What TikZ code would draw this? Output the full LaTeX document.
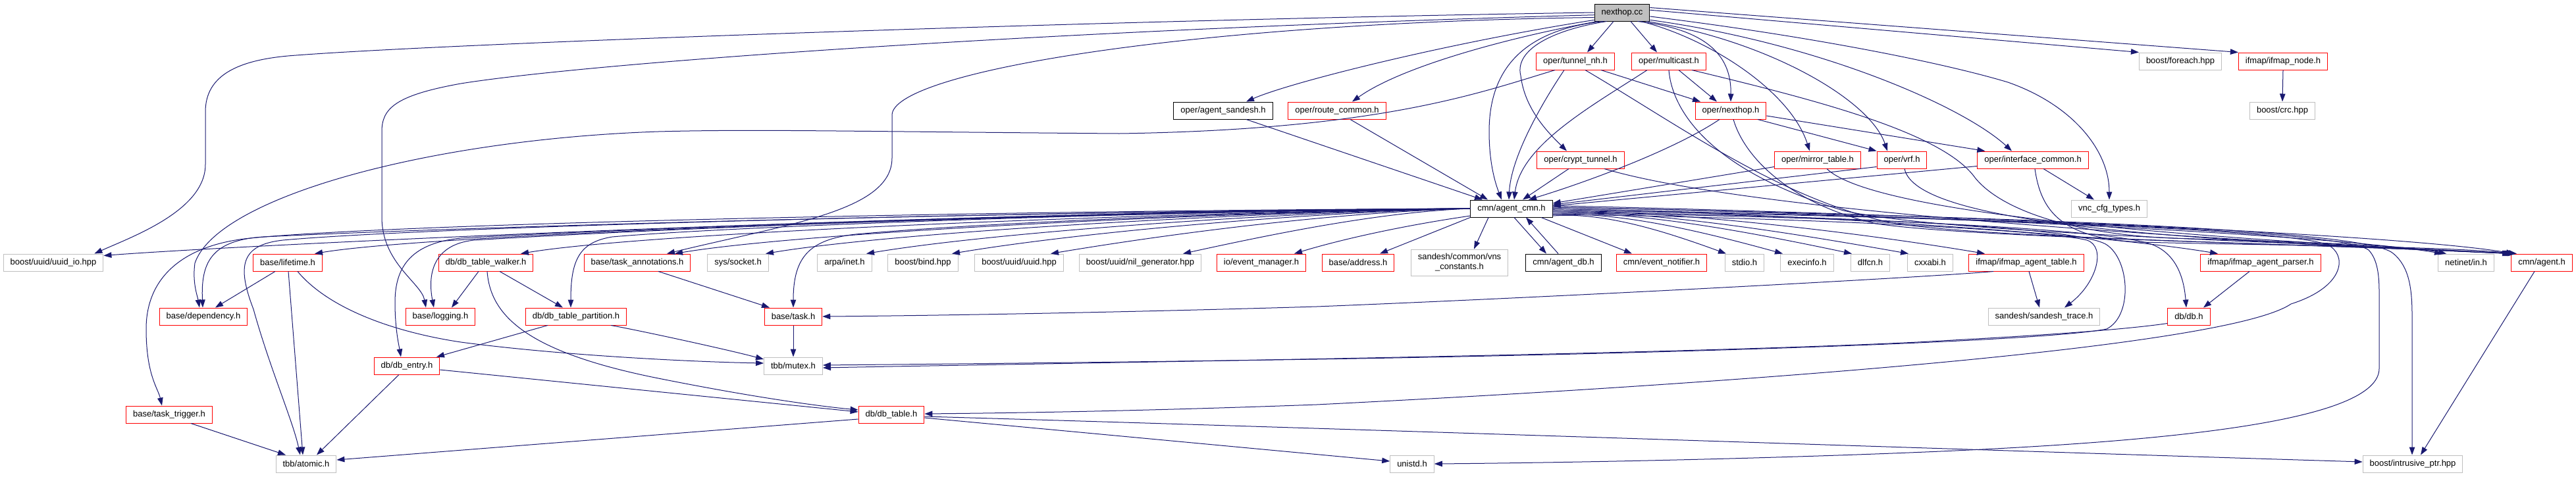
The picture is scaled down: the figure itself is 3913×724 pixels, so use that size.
\documentclass[tikz,border=0pt]{standalone}
\usepackage{fontspec}
\setmainfont{Liberation Sans}
\usepackage{tikz}
\usetikzlibrary{arrows.meta}
\definecolor{edgeblue}{RGB}{25,25,112}
\definecolor{truncred}{RGB}{255,0,0}
\definecolor{sysgray}{RGB}{191,191,191}
\newcommand{\incfont}{\fontsize{13}{15}\selectfont}

\tikzset{
  incbox/.style={rectangle, fill=white, minimum height=26pt, inner xsep=10.5pt,
                 inner ysep=0pt, line width=1pt, font=\incfont, align=center},
  sysfile/.style={incbox, draw=sysgray},
  truncfile/.style={incbox, draw=truncred},
  docfile/.style={incbox, draw=black},
  rootfile/.style={incbox, draw=black, fill=sysgray},
  dep/.style={draw=edgeblue, line width=1pt, -{Triangle[length=12pt,width=8.5pt]}}
}

\begin{document}
\begin{tikzpicture}[x=1pt, y=-1pt]
  \useasboundingbox (0,0) rectangle (3913,724);

  % Files included by nexthop.cc
  \node[rootfile]  (nexthopcc)    at (2464,19)  {nexthop.cc};
  \node[truncfile] (tunnelnh)     at (2393,93)  {oper/tunnel\_nh.h};
  \node[truncfile] (multicast)    at (2535,93)  {oper/multicast.h};
  \node[sysfile]   (foreach)      at (3312,93)  {boost/foreach.hpp};
  \node[truncfile] (ifmapnode)    at (3468,93)  {ifmap/ifmap\_node.h};
  \node[docfile]   (agentsandesh) at (1858,168) {oper/agent\_sandesh.h};
  \node[truncfile] (routecommon)  at (2031,168) {oper/route\_common.h};
  \node[truncfile] (nexthoph)     at (2629,168) {oper/nexthop.h};
  \node[sysfile]   (crc)          at (3467,168) {boost/crc.hpp};
  \node[truncfile] (crypttunnel)  at (2401,243) {oper/crypt\_tunnel.h};
  \node[truncfile] (mirrortable)  at (2761,243) {oper/mirror\_table.h};
  \node[truncfile] (vrf)          at (2889,243) {oper/vrf.h};
  \node[truncfile] (ifcommon)     at (3088,243) {oper/interface\_common.h};
  \node[docfile]   (agentcmn)     at (2296,317) {cmn/agent\_cmn.h};
  \node[sysfile]   (vnccfg)       at (3204,317) {vnc\_cfg\_types.h};

  % Files included by cmn/agent_cmn.h
  \node[sysfile]   (uuidio)           at (81,399)   {boost/uuid/uuid\_io.hpp};
  \node[truncfile] (lifetime)         at (437,399)  {base/lifetime.h};
  \node[truncfile] (dbtablewalker)    at (738,399)  {db/db\_table\_walker.h};
  \node[truncfile] (taskannot)        at (968,399)  {base/task\_annotations.h};
  \node[sysfile]   (syssocket)        at (1121,399) {sys/socket.h};
  \node[sysfile]   (arpainet)         at (1283,399) {arpa/inet.h};
  \node[sysfile]   (boostbind)        at (1402,399) {boost/bind.hpp};
  \node[sysfile]   (uuidh)            at (1548,399) {boost/uuid/uuid.hpp};
  \node[sysfile]   (nilgen)           at (1732,399) {boost/uuid/nil\_generator.hpp};
  \node[truncfile] (eventmgr)         at (1916,399) {io/event\_manager.h};
  \node[truncfile] (address)          at (2063,399) {base/address.h};
  \node[sysfile, minimum height=40pt] (vnsconst) at (2217,399) {sandesh/common/vns\\\_constants.h};
  \node[docfile]   (agentdb)          at (2375,399) {cmn/agent\_db.h};
  \node[truncfile] (eventnotifier)    at (2524,399) {cmn/event\_notifier.h};
  \node[sysfile]   (stdioh)           at (2650,399) {stdio.h};
  \node[sysfile]   (execinfo)         at (2745,399) {execinfo.h};
  \node[sysfile]   (dlfcn)            at (2841,399) {dlfcn.h};
  \node[sysfile]   (cxxabi)           at (2932,399) {cxxabi.h};
  \node[truncfile] (ifmapagenttable)  at (3078,399) {ifmap/ifmap\_agent\_table.h};
  \node[truncfile] (ifmapagentparser) at (3434,399) {ifmap/ifmap\_agent\_parser.h};
  \node[sysfile]   (netinet)          at (3746,399) {netinet/in.h};
  \node[truncfile] (agenth)           at (3861,399) {cmn/agent.h};

  \node[truncfile] (dependency)       at (309,481)  {base/dependency.h};
  \node[truncfile] (logging)          at (669,481)  {base/logging.h};
  \node[truncfile] (dbtablepartition) at (875,481)  {db/db\_table\_partition.h};
  \node[truncfile] (taskh)            at (1205,481) {base/task.h};
  \node[sysfile]   (sandeshtrace)     at (3105,481) {sandesh/sandesh\_trace.h};
  \node[truncfile] (dbh)              at (3325,481) {db/db.h};
  \node[truncfile] (dbentry)          at (618,556)  {db/db\_entry.h};
  \node[sysfile]   (mutex)            at (1205,556) {tbb/mutex.h};
  \node[truncfile] (tasktrigger)      at (257,630)  {base/task\_trigger.h};
  \node[truncfile] (dbtable)          at (1354,630) {db/db\_table.h};
  \node[sysfile]   (atomic)           at (465,705)  {tbb/atomic.h};
  \node[sysfile]   (unistd)           at (2145,705) {unistd.h};
  \node[sysfile]   (intrusive)        at (3665,705) {boost/intrusive\_ptr.hpp};

  % nexthop.cc includes
  \draw[dep] (nexthopcc.180) .. controls (1700,30) and (700,65) .. (450,84)
             .. controls (360,90) and (312,115) .. (312,170) -- (312,250)
             .. controls (312,320) and (200,360) .. ([xshift=-14pt]uuidio.north east);
  \draw[dep] (nexthopcc.185) .. controls (1600,45) and (900,95) .. (700,127)
             .. controls (600,145) and (580,165) .. (580,200) -- (580,330)
             .. controls (580,400) and (640,430) .. ([xshift=-22pt]logging.north);
  \draw[dep] (nexthopcc.190) .. controls (1800,35) and (1355,110) .. (1355,175) -- (1355,240)
             .. controls (1355,320) and (1200,340) .. ([xshift=45pt]taskannot.north);
  \draw[dep] (nexthopcc.195) .. controls (2200,65) and (1960,125) .. ([xshift=35pt]agentsandesh.north);
  \draw[dep] (nexthopcc.200) .. controls (2300,55) and (2130,100) .. ([xshift=23pt]routecommon.north);
  \draw[dep] ([xshift=-13pt]nexthopcc.south) -- ([xshift=18pt]tunnelnh.north);
  \draw[dep] ([xshift=13pt]nexthopcc.south) -- ([xshift=-18pt]multicast.north);
  \draw[dep] (nexthopcc.205) .. controls (2320,45) and (2262,100) .. (2262,200)
             .. controls (2262,250) and (2272,280) .. ([xshift=-15pt]agentcmn.north);
  \draw[dep] (nexthopcc.210) .. controls (2360,45) and (2300,75) .. (2310,115)
             .. controls (2316,165) and (2350,200) .. ([xshift=-21pt]crypttunnel.north);
  \draw[dep] (nexthopcc.-30) .. controls (2600,45) and (2630,90) .. (nexthoph.north);
  \draw[dep] (nexthopcc.-25) .. controls (2600,60) and (2720,140) .. ([xshift=-12pt]mirrortable.north);
  \draw[dep] (nexthopcc.-20) .. controls (2680,60) and (2840,150) .. ([xshift=-22pt]vrf.north);
  \draw[dep] (nexthopcc.-15) .. controls (2760,65) and (2980,160) .. ([xshift=-32pt]ifcommon.north);
  \draw[dep] (nexthopcc.-8) .. controls (2750,55) and (2950,95) .. (3050,125)
             .. controls (3150,160) and (3204,230) .. (vnccfg.north);
  \draw[dep] (nexthopcc.5) -- (foreach.north west);
  \draw[dep] (nexthopcc.10) -- (ifmapnode.north west);

  % oper headers
  \draw[dep] ([xshift=35pt]agentsandesh.south) -- ([xshift=-44pt]agentcmn.north);
  \draw[dep] ([xshift=20pt]routecommon.south) -- ([xshift=-36pt]agentcmn.north);
  \draw[dep] ([xshift=-17pt]tunnelnh.south) .. controls (2340,160) and (2295,240) .. ([xshift=-4pt]agentcmn.north);
  \draw[dep] ([xshift=-33pt]multicast.south) .. controls (2420,160) and (2310,220) .. ([xshift=4pt]agentcmn.north);
  \draw[dep] ([xshift=-18pt]crypttunnel.south) -- ([xshift=17pt]agentcmn.north);
  \draw[dep] ([xshift=-17pt]nexthoph.south) .. controls (2540,230) and (2400,280) .. ([xshift=26pt]agentcmn.north);
  \draw[dep] ([yshift=3pt]mirrortable.south west) -- ([yshift=8pt]agentcmn.east);
  \draw[dep] ([yshift=3pt]vrf.south west) -- ([yshift=6pt]agentcmn.east);
  \draw[dep] ([yshift=4pt]ifcommon.south west) -- ([yshift=4pt]agentcmn.east);
  \draw[dep] ([xshift=39pt]tunnelnh.south) -- ([xshift=-46pt]nexthoph.north);
  \draw[dep] ([xshift=15pt]multicast.south) -- ([xshift=-21pt]nexthoph.north);
  \draw[dep] ([xshift=41pt]nexthoph.south) -- (vrf.north west);
  \draw[dep] ([yshift=-8pt]nexthoph.east) -- ([xshift=12pt]ifcommon.north west);
  \draw[dep] ([xshift=16pt]ifcommon.south) -- ([xshift=-23pt]vnccfg.north);
  \draw[dep] (ifmapnode.south) -- (crc.north);
  \draw[dep] ([xshift=-31pt]tunnelnh.south) .. controls (2250,140) and (2100,197) .. (1700,203)
             .. controls (1300,200) and (1150,196) .. (1000,200)
             .. controls (650,212) and (330,300) .. (296,400)
             .. controls (292,430) and (300,450) .. ([xshift=-6pt]dependency.north);
  \draw[dep] ([xshift=15pt]tunnelnh.south) .. controls (2550,190) and (2700,300) .. (2870,338)
             .. controls (3000,362) and (3500,370) .. ([xshift=-44pt]agenth.north);
  \draw[dep] (multicast.south) .. controls (2540,170) and (2600,260) .. (2800,320)
             .. controls (2950,355) and (3500,368) .. ([xshift=-40pt]agenth.north);
  \draw[dep] ([xshift=35pt]multicast.south) .. controls (2750,150) and (2950,200) .. (3000,270)
             .. controls (3040,320) and (3150,356) .. (3300,362)
             .. controls (3500,368) and (3650,372) .. ([xshift=-30pt]netinet.north);
  \draw[dep] ([xshift=4pt]nexthoph.south) .. controls (2650,240) and (2720,310) .. (2850,340)
             .. controls (3000,362) and (3500,370) .. ([xshift=-46pt]agenth.north);
  \draw[dep] ([xshift=36pt]crypttunnel.south) .. controls (2650,320) and (3300,362) .. ([xshift=-48pt]agenth.north);
  \draw[dep] ([xshift=14pt]mirrortable.south) .. controls (2850,330) and (3400,366) .. ([xshift=-42pt]agenth.north);
  \draw[dep] ([xshift=4pt]vrf.south) .. controls (2910,340) and (3300,365) .. ([xshift=-40pt]agenth.north);
  \draw[dep] ([xshift=3pt]ifcommon.south) .. controls (3100,320) and (3130,362) .. (3250,368)
             .. controls (3500,374) and (3700,374) .. ([xshift=-38pt]agenth.north);

  % cmn/agent_cmn.h, to the left
  \draw[dep] (agentcmn.west) .. controls (1500,320) and (400,370) .. ([yshift=-3pt]uuidio.north east);
  \foreach \t/\s/\a/\b in {lifetime/41/1707/678, dbtablewalker/53/1800/991, taskannot/57/1871/1225,
                           syssocket/42/1912/1363, arpainet/33/1958/1516, boostbind/44/1997/1646,
                           uuidh/48/2042/1796, nilgen/65/2102/1950}
    \draw[dep] (agentcmn.west) .. controls (\a,322) and (\b,352) .. ([xshift=\s pt]\t.north);
  \draw[dep] (agentcmn.190) .. controls (2150,340) and (2050,360) .. ([xshift=50pt]eventmgr.north);
  \draw[dep] (agentcmn.south west) -- ([xshift=33pt]address.north);
  \draw[dep] ([xshift=-35pt]agentcmn.south) -- ([xshift=22pt]vnsconst.north);
  \draw[dep] (agentcmn.west) .. controls (1500,322) and (700,345) .. (400,360)
             .. controls (320,365) and (305,400) .. ([xshift=-1pt]dependency.north);
  \draw[dep] (agentcmn.west) .. controls (1600,322) and (1000,348) .. (720,365)
             .. controls (655,372) and (650,420) .. ([xshift=-10pt]logging.north);
  \draw[dep] (agentcmn.west) .. controls (1700,322) and (1100,345) .. (930,360)
             .. controls (880,368) and (867,395) .. ([xshift=-8pt]dbtablepartition.north);
  \draw[dep] (agentcmn.west) .. controls (1600,322) and (900,350) .. (700,362)
             .. controls (620,370) and (600,410) .. (600,460)
             .. controls (600,500) and (606,525) .. ([xshift=-9pt]dbentry.north);
  \draw[dep] (agentcmn.west) .. controls (1500,320) and (600,340) .. (380,362)
             .. controls (280,372) and (222,420) .. (222,500)
             .. controls (222,570) and (240,590) .. ([xshift=-11pt]tasktrigger.north);
  \draw[dep] (agentcmn.west) .. controls (1500,322) and (650,345) .. (430,365)
             .. controls (365,372) and (360,405) .. (385,470)
             .. controls (410,560) and (445,640) .. ([xshift=-9pt]atomic.north);
  \draw[dep] (agentcmn.west) .. controls (1900,322) and (1500,338) .. (1300,356)
             .. controls (1230,364) and (1205,390) .. (taskh.north);

  % cmn/agent_cmn.h, to the right
  \draw[dep] ([xshift=4pt]agentcmn.south) -- ([xshift=-26pt]agentdb.north);
  \draw[dep] ([xshift=-8pt]agentdb.north) -- ([xshift=22pt]agentcmn.south);
  \draw[dep] ([xshift=45pt]agentcmn.south) -- ([xshift=-45pt]eventnotifier.north);
  \foreach \t/\s/\a/\b/\o in {stdioh/-28/2437/2530/-10, execinfo/-37/2463/2586/-8,
                              dlfcn/-28/2495/2654/-6, cxxabi/-33/2520/2710/-4,
                              ifmapagenttable/-63/2555/2815/-2, ifmapagentparser/-65/2661/3169/0,
                              netinet/-36/2764/3510/2, agenth/-42/2796/3619/4}
    \draw[dep] (agentcmn.\o) .. controls (\a,322) and (\b,352) .. ([xshift=\s pt]\t.north);
  \draw[dep] (agentcmn.-8) .. controls (2700,330) and (3100,348) .. (3170,365)
             .. controls (3200,375) and (3185,430) .. ([xshift=31pt]sandeshtrace.north);
  \draw[dep] (agentcmn.-6) .. controls (2750,328) and (3200,345) .. (3270,372)
             .. controls (3310,388) and (3318,430) .. ([xshift=-4pt]dbh.north);
  \draw[dep] (agentcmn.-4) .. controls (2800,328) and (3160,345) .. (3200,372)
             .. controls (3235,395) and (3240,480) .. (3200,500)
             .. controls (3100,520) and (2500,538) .. (2000,546)
             .. controls (1600,552) and (1350,554) .. ([yshift=1pt]mutex.east);
  \draw[dep] (agentcmn.-2) .. controls (2850,328) and (3470,345) .. (3535,372)
             .. controls (3565,385) and (3565,435) .. (3480,462)
             .. controls (3380,530) and (2600,585) .. (2000,615)
             .. controls (1700,626) and (1500,628) .. ([yshift=1pt]dbtable.east);
  \draw[dep] (agentcmn.east) .. controls (2900,330) and (3550,345) .. (3598,380)
             .. controls (3612,395) and (3614,420) .. (3614,445) -- (3614,560)
             .. controls (3614,640) and (3300,672) .. (2900,688)
             .. controls (2600,700) and (2300,704) .. (unistd.east);
  \draw[dep] (agentcmn.2) .. controls (2950,328) and (3590,345) .. (3635,385)
             .. controls (3660,405) and (3664,440) .. (3664,480) -- ([xshift=-1pt]intrusive.north);

  % lower levels
  \draw[dep] ([xshift=-19pt]lifetime.south) -- ([xshift=18pt]dependency.north);
  \draw[dep] ([xshift=1pt]lifetime.south) -- ([xshift=-5pt]atomic.north);
  \draw[dep] ([xshift=15pt]lifetime.south) .. controls (500,470) and (600,505) .. (700,520)
             .. controls (850,540) and (1050,550) .. ([yshift=4pt]mutex.west);
  \draw[dep] ([xshift=-11pt]dbtablewalker.south) -- ([xshift=17pt]logging.north);
  \draw[dep] ([xshift=21pt]dbtablewalker.south) -- ([xshift=-20pt]dbtablepartition.north);
  \draw[dep] ([xshift=2pt]dbtablewalker.south) .. controls (745,480) and (800,535) .. (1000,575)
             .. controls (1150,605) and (1250,618) .. ([yshift=7pt]dbtable.west);
  \draw[dep] ([xshift=-43pt]dbtablepartition.south) -- ([xshift=45pt]dbentry.north);
  \draw[dep] ([xshift=53pt]dbtablepartition.south) .. controls (960,500) and (1100,530) .. ([yshift=10pt]mutex.west);
  \draw[dep] ([xshift=32pt]taskannot.south) -- ([xshift=-36pt]taskh.north);
  \draw[dep] (taskh.south) -- (mutex.north);
  \draw[dep] ([xshift=-50pt]ifmapagenttable.south) .. controls (2950,420) and (2400,450) .. (2000,466)
             .. controls (1700,475) and (1400,480) .. (taskh.east);
  \draw[dep] ([xshift=4pt]ifmapagenttable.south) -- ([xshift=-7pt]sandeshtrace.north);
  \draw[dep] ([xshift=-17pt]ifmapagentparser.south) -- ([xshift=22pt]dbh.north);
  \draw[dep] ([yshift=3pt]dbh.south west) .. controls (3200,505) and (3000,515) .. (2913,520)
             .. controls (2500,540) and (1600,552) .. ([yshift=-3pt]mutex.east);
  \draw[dep] ([xshift=-12pt]dbentry.south) -- ([xshift=16pt]atomic.north);
  \draw[dep] ([yshift=-6pt]dbentry.east) -- ([yshift=4pt]dbtable.west);
  \draw[dep] ([xshift=33pt]tasktrigger.south) -- ([xshift=-31pt]atomic.north);
  \draw[dep] ([yshift=-7pt]dbtable.west) -- ([yshift=6pt]atomic.east);
  \draw[dep] ([yshift=-5pt]dbtable.east) -- ([yshift=4pt]unistd.west);
  \draw[dep] ([yshift=-3pt]dbtable.east) .. controls (2000,650) and (3000,684) .. ([yshift=3pt]intrusive.west);
  \draw[dep] ([xshift=-11pt]agenth.south) -- ([xshift=12pt]intrusive.north);
\end{tikzpicture}
\end{document}
